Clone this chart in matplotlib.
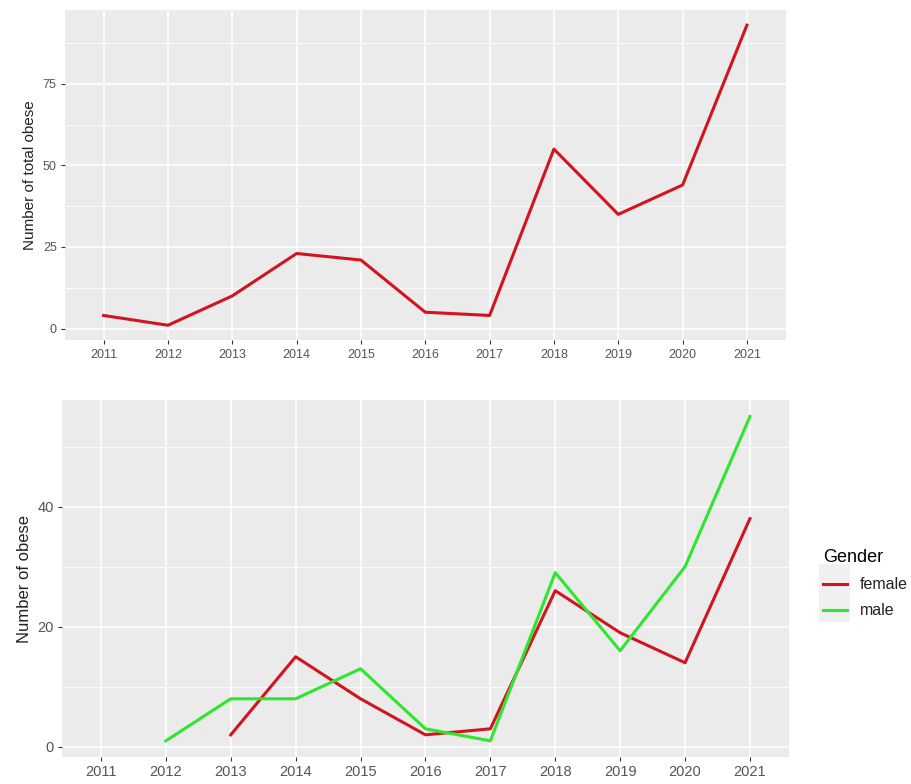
import matplotlib.pyplot as plt
from matplotlib.lines import Line2D
from matplotlib.patches import Rectangle

plt.rcParams['font.family'] = ['Liberation Sans', 'DejaVu Sans']

# Yearly counts
years = [2011, 2012, 2013, 2014, 2015, 2016, 2017, 2018, 2019, 2020, 2021]
total_obese = [4, 1, 10, 23, 21, 5, 4, 55, 35, 44, 93]

female_years = [2013, 2014, 2015, 2016, 2017, 2018, 2019, 2020, 2021]
female_obese = [2, 15, 8, 2, 3, 26, 19, 14, 38]

male_years = [2012, 2013, 2014, 2015, 2016, 2017, 2018, 2019, 2020, 2021]
male_obese = [1, 8, 8, 13, 3, 1, 29, 16, 30, 55]

RED = '#d2141f'
GREEN = '#2fe62f'
PANEL = '#ebebeb'


def gg_style(ax, ymajor, yminor, tick_size):
    ax.set_facecolor(PANEL)
    for s in ax.spines.values():
        s.set_visible(False)
    ax.set_xticks(years)
    ax.set_xticklabels([str(y) for y in years])
    ax.set_yticks(ymajor)
    ax.set_yticks(yminor, minor=True)
    ax.grid(which='major', color='white', linewidth=1.1)
    ax.grid(which='minor', axis='y', color='white', linewidth=0.55)
    ax.tick_params(which='major', length=3, width=0.8, color='#333333',
                   labelcolor='#555555', labelsize=tick_size, pad=3)
    ax.tick_params(which='minor', length=0)
    ax.set_axisbelow(True)
    ax.set_xlim(2011 - 0.6, 2021 + 0.6)


fig = plt.figure(figsize=(9.12, 7.84), dpi=100)

# Total obese per year
ax1 = fig.add_axes([0.0713, 0.566, 0.790, 0.421])
gg_style(ax1, [0, 25, 50, 75], [12.5, 37.5, 62.5, 87.5], 9)
ax1.plot(years, total_obese, color=RED, linewidth=2.2)
ax1.set_ylim(-3.6, 97.6)
ax1.set_ylabel('Number of total obese', fontsize=11, color='#222222', labelpad=4)

# Obese by gender
ax2 = fig.add_axes([0.068, 0.0344, 0.797, 0.455])
gg_style(ax2, [0, 20, 40], [10, 30, 50], 10.5)
ax2.plot(female_years, female_obese, color=RED, linewidth=2.2)
ax2.plot(male_years, male_obese, color=GREEN, linewidth=2.2)
ax2.set_ylim(-1.7, 57.7)
ax2.set_ylabel('Number of obese', fontsize=12, color='#222222', labelpad=4)

# grey key boxes behind the legend lines
fig.patches.append(Rectangle((0.898, 0.207), 0.034, 0.073, transform=fig.transFigure,
                             facecolor='#f0f0f0', edgecolor='none', zorder=0))

handles = [Line2D([], [], color=RED, linewidth=2.2),
           Line2D([], [], color=GREEN, linewidth=2.2)]
leg = fig.legend(handles, ['female', 'male'], title='Gender',
                 loc='upper left', bbox_to_anchor=(0.887, 0.318),
                 frameon=False, fontsize=11.5, title_fontsize=13,
                 handlelength=1.5, handletextpad=0.8, labelspacing=0.7)
leg._legend_box.align = 'left'
for t in leg.get_texts():
    t.set_color('#222222')

fig.savefig('out.png', dpi=100)
